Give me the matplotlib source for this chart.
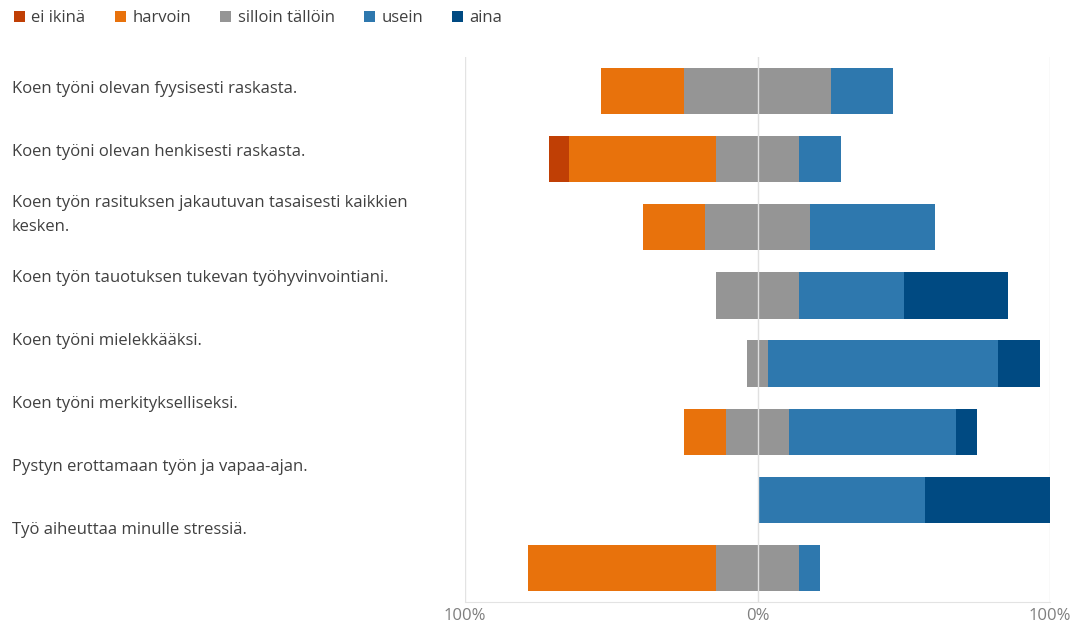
import matplotlib.pyplot as plt
from matplotlib.patches import Patch
import numpy as np

plt.rcParams['font.family'] = ['Open Sans', 'DejaVu Sans']

questions = [
    "Koen työni olevan fyysisesti raskasta.",
    "Koen työni olevan henkisesti raskasta.",
    "Koen työn rasituksen jakautuvan tasaisesti kaikkien\nkesken.",
    "Koen työn tauotuksen tukevan työhyvinvointiani.",
    "Koen työni mielekkääksi.",
    "Koen työni merkitykselliseksi.",
    "Pystyn erottamaan työn ja vapaa-ajan.",
    "Työ aiheuttaa minulle stressiä.",
]
categories = ["ei ikinä", "harvoin", "silloin tällöin", "usein", "aina"]

# share of answers (%) per row
ei_ikina = [0.0, 7.1, 0.0, 0.0, 0.0, 0.0, 0.0, 0.0]
harvoin = [28.6, 50.0, 21.4, 0.0, 0.0, 14.3, 0.0, 64.3]
silloin = [50.0, 28.6, 35.7, 28.6, 7.1, 21.4, 0.0, 28.6]
usein = [21.4, 14.3, 42.9, 35.7, 78.6, 57.1, 57.1, 7.1]
aina = [0.0, 0.0, 0.0, 35.7, 14.3, 7.1, 42.9, 0.0]

colors = ["#C03F05", "#E8720C", "#959595", "#2E78AE", "#004A82"]
text_color = "#404040"

fig = plt.figure(figsize=(10.78, 6.26), dpi=100)
ax = fig.add_axes([465 / 1078, 1 - 602 / 626, 585 / 1078, 545 / 626])

series = [np.array(s) for s in (ei_ikina, harvoin, silloin, usein, aina)]
y = np.arange(len(questions))
left = -(series[0] + series[1] + series[2] / 2)
for vals, col in zip(series, colors):
    ax.barh(y, vals, left=left, height=0.68, color=col, zorder=2)
    left = left + vals

ax.set_xlim(-100, 100)
ax.set_ylim(len(questions) - 0.5, -0.5)
ax.set_yticks([])
ax.set_xticks([-100, 0, 100])
ax.set_xticklabels(["100%", "0%", "100%"], fontsize=12, color="#7f7f7f")
ax.tick_params(axis="x", length=0, pad=4)
for s in ["top", "left", "right"]:
    ax.spines[s].set_visible(False)
ax.spines["bottom"].set_color("#e3e3e3")
for xv in [-100, 100]:
    ax.axvline(xv, color="#e3e3e3", lw=1, zorder=1)
ax.axvline(0, color="#e0e0e0", lw=1, zorder=3)

# question labels (spaced slightly tighter than the bars, like the original)
for i, q in enumerate(questions):
    fig.text(12 / 1078, 1 - (89 + 63 * i) / 626, q, ha="left", va="center",
             fontsize=12, color=text_color, linespacing=1.62)

handles = [Patch(facecolor=c, edgecolor="none") for c in colors]
fig.legend(handles, categories, loc="upper left", bbox_to_anchor=(-0.001, 1.008),
           ncol=5, frameon=False, fontsize=12, handlelength=0.65, handleheight=0.65,
           handletextpad=0.4, columnspacing=1.75, labelcolor=text_color)

fig.savefig("out.png", dpi=100)
